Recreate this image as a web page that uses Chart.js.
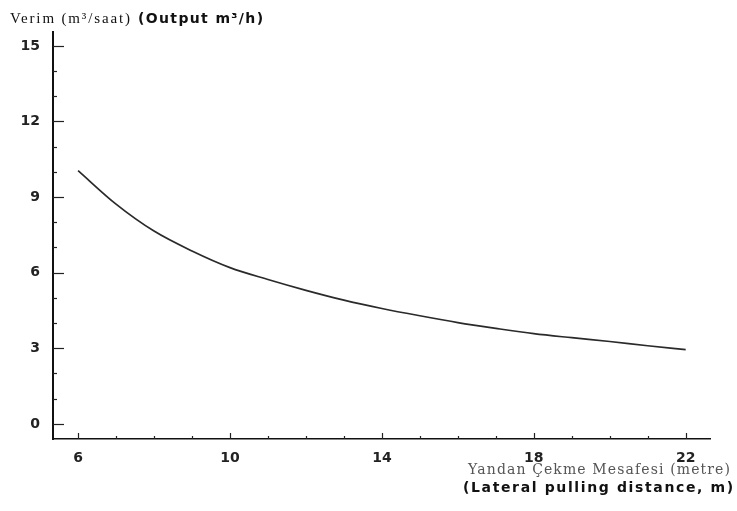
<!DOCTYPE html>
<html>
<head>
<meta charset="utf-8">
<script src="https://cdn.jsdelivr.net/npm/chart.js@4"></script>
<style>
html,body{margin:0;padding:0;background:#fff;}
#wrap{width:737px;height:511px;}
</style>
</head>
<body>
<div id="wrap"><canvas id="c" width="737" height="511"></canvas></div>
<script>
const distances = [6,7,8,9,10,11,12,13,14,15,16,17,18,19,20,21,22];
const output = [10.05,8.72,7.65,6.86,6.2,5.73,5.3,4.91,4.58,4.29,4.02,3.79,3.58,3.42,3.27,3.1,2.95];
const xMajorTicks = [6,10,14,18,22];
const yMajorTicks = [0,3,6,9,12,15];
const yTitleA = 'Verim (m³/saat)';
const yTitleB = '(Output m³/h)';
const xTitleA = 'Yandan Çekme Mesafesi (metre)';
const xTitleB = '(Lateral pulling distance, m)';

function fitText(ctx, text, target){
  ctx.letterSpacing = '0px';
  const w = ctx.measureText(text).width;
  const n = Math.max(1, text.length - 1);
  const ls = (target - w) / n;
  ctx.letterSpacing = ls.toFixed(2) + 'px';
}

const insideTicks = {
  id: 'insideTicks',
  afterDraw(chart){
    const {ctx, chartArea, scales:{x, y}} = chart;
    ctx.save();
    ctx.strokeStyle = '#222';
    ctx.lineWidth = 1.2;
    y.ticks.forEach(t => {
      const py = Math.round(y.getPixelForValue(t.value)) + 0.5;
      const len = yMajorTicks.includes(t.value) ? 11 : 4;
      ctx.beginPath();
      ctx.moveTo(chartArea.left, py);
      ctx.lineTo(chartArea.left + len, py);
      ctx.stroke();
    });
    x.ticks.forEach(t => {
      const px = Math.round(x.getPixelForValue(t.value)) + 0.5;
      const len = xMajorTicks.includes(t.value) ? 6 : 3;
      ctx.beginPath();
      ctx.moveTo(px, chartArea.bottom);
      ctx.lineTo(px, chartArea.bottom - len);
      ctx.stroke();
    });
    ctx.restore();
  }
};

const titles = {
  id: 'titles',
  afterDraw(chart){
    const ctx = chart.ctx;
    ctx.save();
    ctx.textBaseline = 'alphabetic';
    ctx.textAlign = 'left';
    // y-axis title
    ctx.fillStyle = '#111';
    ctx.font = '15px "Liberation Serif", serif';
    fitText(ctx, yTitleA, 120);
    ctx.fillText(yTitleA, 10, 23);
    ctx.font = 'bold 14px "DejaVu Sans", sans-serif';
    fitText(ctx, yTitleB, 125);
    ctx.fillText(yTitleB, 138, 23);
    // x-axis title
    ctx.fillStyle = '#555';
    ctx.font = '14px "DejaVu Serif", serif';
    fitText(ctx, xTitleA, 262);
    ctx.fillText(xTitleA, 468, 474);
    ctx.fillStyle = '#111';
    ctx.font = 'bold 14px "DejaVu Sans", sans-serif';
    fitText(ctx, xTitleB, 270);
    ctx.fillText(xTitleB, 463, 492);
    ctx.restore();
  }
};

new Chart(document.getElementById('c'), {
  type: 'line',
  data: {
    datasets: [{
      data: distances.map((d, i) => ({x: d, y: output[i]})),
      borderColor: '#2a2a2a',
      borderWidth: 1.7,
      pointRadius: 0,
      fill: false,
      tension: 0.4,
      cubicInterpolationMode: 'monotone'
    }]
  },
  options: {
    responsive: false,
    animation: false,
    devicePixelRatio: 1,
    layout: {padding: {top: 32, right: 27, left: 0, bottom: 0}},
    plugins: {legend: {display: false}, tooltip: {enabled: false}, title: {display: false}},
    scales: {
      x: {
        type: 'linear',
        min: 5.34,
        max: 22.64,
        afterFit(s){ s.height = 72; },
        grid: {display: false, drawTicks: false, drawOnChartArea: false},
        border: {display: true, color: '#111', width: 1.6},
        ticks: {
          stepSize: 1,
          includeBounds: false,
          autoSkip: false,
          maxRotation: 0,
          padding: 11,
          color: '#222',
          font: {family: '"DejaVu Sans", sans-serif', size: 14, weight: 'bold'},
          callback: v => xMajorTicks.includes(v) ? String(v) : ''
        }
      },
      y: {
        type: 'linear',
        min: -0.6,
        max: 15.55,
        afterFit(s){ s.width = 53; },
        grid: {display: false, drawTicks: false, drawOnChartArea: false},
        border: {display: true, color: '#111', width: 2},
        ticks: {
          stepSize: 1,
          includeBounds: false,
          autoSkip: false,
          padding: 13,
          color: '#222',
          font: {family: '"DejaVu Sans", sans-serif', size: 14, weight: 'bold'},
          callback: v => yMajorTicks.includes(v) ? String(v) : ''
        }
      }
    }
  },
  plugins: [insideTicks, titles]
});
</script>
</body>
</html>
